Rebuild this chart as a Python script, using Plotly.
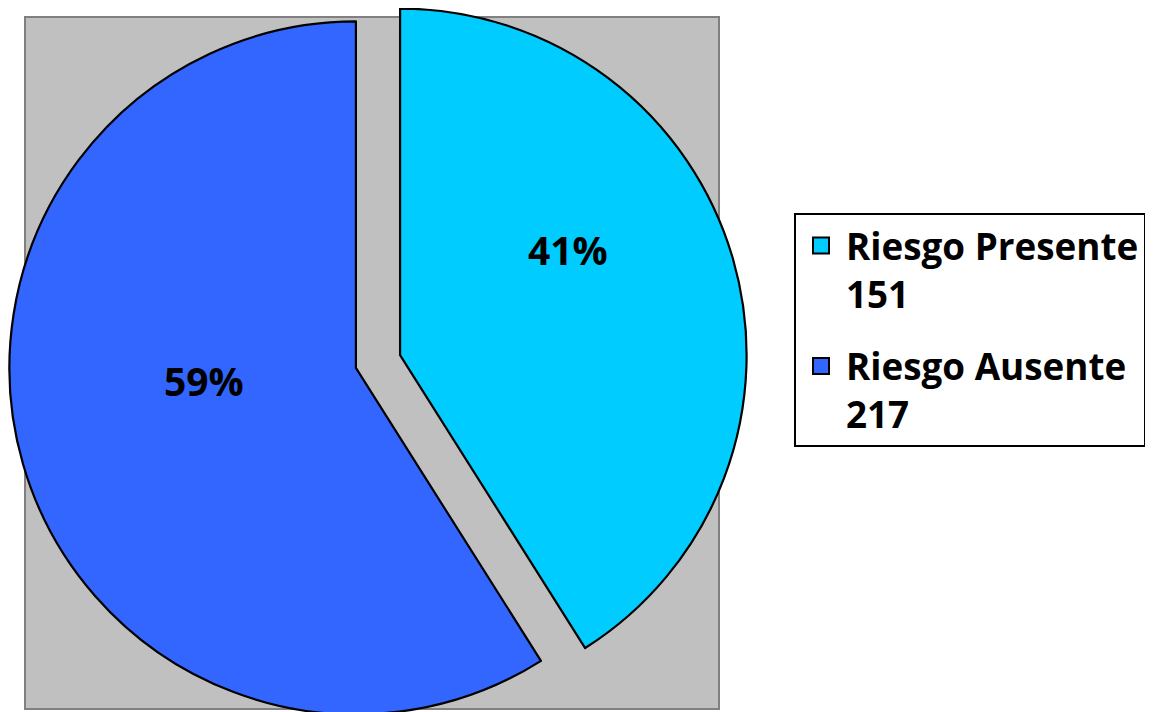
import math
import plotly.graph_objects as go

categories = ["Riesgo Presente", "Riesgo Ausente"]
counts = [151, 217]
colors = ["#00CCFF", "#3366FF"]

W, H = 1153, 712
OFF = 8  # browser body margin around the figure
total = sum(counts)
labels = [f"{c}<br>{v}" for c, v in zip(categories, counts)]
pct_text = [f"{round(100 * v / total)}%" for v in counts]
CLEAR = "rgba(0,0,0,0)"


def px(x):
    return (x - OFF) / W


def py(y):
    return 1 - (y - OFF) / H


# exploded pie: common centre, radius and explosion distance (screen px)
CX, CY, R, EXPLODE = 378 - OFF, 361.5 - OFF, 346.5, 23

fig = go.Figure()
start = 0.0
for i, v in enumerate(counts):
    frac = v / total
    mid = math.radians((start + frac / 2) * 360)  # clockwise from 12 o'clock
    start += frac
    cx = CX + EXPLODE * math.sin(mid)
    cy = CY - EXPLODE * math.cos(mid)
    slice_colors = [c if j == i else CLEAR for j, c in enumerate(colors)]
    widths = [2.2 if j == i else 0 for j in range(len(counts))]
    fig.add_trace(
        go.Pie(
            labels=labels,
            values=counts,
            sort=False,
            direction="clockwise",
            rotation=0,
            marker=dict(colors=slice_colors, line=dict(color="black", width=widths)),
            textinfo="none",
            hoverinfo="skip",
            showlegend=False,
            domain=dict(
                x=[(cx - R) / W, (cx + R) / W],
                y=[1 - (cy + R) / H, 1 - (cy - R) / H],
            ),
        )
    )

# legend entries
for i, (lab, c) in enumerate(zip(labels, colors)):
    fig.add_trace(
        go.Scatter(
            x=[None], y=[None], mode="markers", name=lab,
            legendgroup=f"g{i}",
            marker=dict(symbol="square", size=16, color=c, line=dict(color="black", width=2)),
            hoverinfo="skip",
        )
    )

label_pos = [(568, 249), (204, 380)]
annotations = [
    dict(
        x=px(x), y=py(y), xref="paper", yref="paper",
        text=t, showarrow=False, xanchor="center", yanchor="middle",
        font=dict(family="Open Sans", size=39, color="black", weight="bold"),
    )
    for t, (x, y) in zip(pct_text, label_pos)
]

fig.update_layout(
    width=W,
    height=H,
    margin=dict(l=0, r=0, t=0, b=0),
    paper_bgcolor="white",
    plot_bgcolor=CLEAR,
    xaxis=dict(visible=False),
    yaxis=dict(visible=False),
    font=dict(family="Open Sans", color="black"),
    annotations=annotations,
    shapes=[
        dict(
            type="rect",
            xref="paper",
            yref="paper",
            x0=px(25),
            x1=px(719),
            y0=py(709),
            y1=py(17),
            fillcolor="#C0C0C0",
            line=dict(color="#808080", width=2),
            layer="below",
        )
    ],
    legend=dict(
        x=px(794),
        xanchor="left",
        y=py(213),
        yanchor="top",
        bgcolor="white",
        bordercolor="black",
        borderwidth=2,
        font=dict(family="Open Sans", size=36.8, color="black", weight="bold"),
        itemwidth=40,
        traceorder="grouped",
        tracegroupgap=22,
        valign="top",
    ),
)

fig.write_html("out.html")
